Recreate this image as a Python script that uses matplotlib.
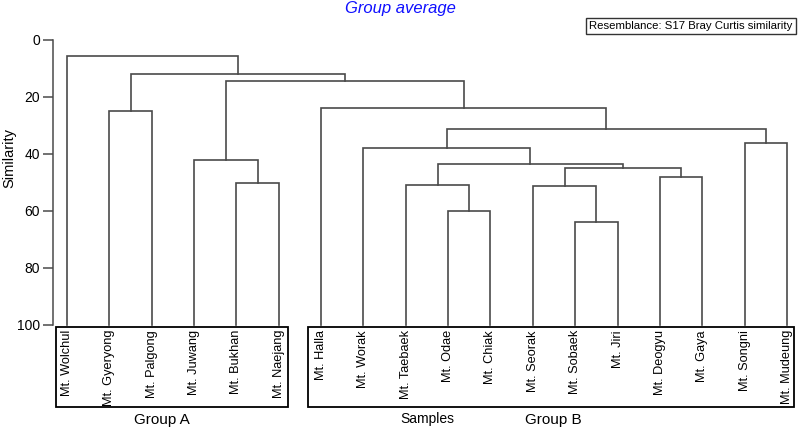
import matplotlib
matplotlib.use('Agg')
import matplotlib.pyplot as plt
from matplotlib.patches import Rectangle
from matplotlib.transforms import blended_transform_factory

# ---- data ----
leaves = ["Mt. Wolchul", "Mt. Gyeryong", "Mt. Palgong", "Mt. Juwang", "Mt. Bukhan",
          "Mt. Naejang", "Mt. Halla", "Mt. Worak", "Mt. Taebaek", "Mt. Odae", "Mt. Chiak",
          "Mt. Seorak", "Mt. Sobaek", "Mt. Jiri", "Mt. Deogyu", "Mt. Gaya", "Mt. Songni",
          "Mt. Mudeung"]
# merges: cluster ids (leaves 0..17, new clusters 18..)
merge_a = [4, 3, 1, 9, 8, 12, 11, 14, 24, 22, 7, 16, 28, 6, 19, 20, 0]
merge_b = [5, 18, 2, 10, 21, 13, 23, 15, 25, 26, 27, 17, 29, 30, 31, 32, 33]
merge_sim = [50.1, 42.0, 25.1, 60.1, 51.0, 64.0, 51.2, 48.2, 45.0, 43.6, 38.0,
             36.1, 31.4, 24.0, 14.5, 12.0, 5.6]
y_ticks = [0, 20, 40, 60, 80, 100]

plt.rcParams['font.family'] = ['Liberation Sans', 'DejaVu Sans']

W, H = 800, 430
fig = plt.figure(figsize=(W / 100, H / 100), dpi=100)


def fx(px):
    return px / W


def fy(py):
    return 1 - py / H


x0px, x1px = 52.7, 795.0
y0px, y1px = 39.7, 325.0
ax = fig.add_axes([fx(x0px), fy(y1px), fx(x1px) - fx(x0px), fy(y0px) - fy(y1px)])
spacing, leaf0 = 42.35, 67.0
ax.set_xlim((x0px - leaf0) / spacing, (x1px - leaf0) / spacing)
ax.set_ylim(100, 0)

line_color = '#4a4a4a'
n = len(leaves)
pos = {i: (float(i), 100.0) for i in range(n)}
for k, (a, b, s) in enumerate(zip(merge_a, merge_b, merge_sim)):
    xa, ha = pos[a]
    xb, hb = pos[b]
    ax.plot([xa, xa, xb, xb], [ha, s, s, hb], color=line_color, lw=1.2,
            clip_on=False, solid_joinstyle='miter')
    pos[n + k] = ((xa + xb) / 2, s)

for sp in ['top', 'right', 'bottom']:
    ax.spines[sp].set_visible(False)
ax.spines['left'].set_color(line_color)
ax.spines['left'].set_linewidth(1.1)
ax.set_yticks(y_ticks)
ax.tick_params(axis='y', length=7, width=1.1, color=line_color, labelsize=10, pad=2)
ax.set_xticks([])

# leaf labels
tr = blended_transform_factory(ax.transData, fig.transFigure)
for i, name in enumerate(leaves):
    ax.text(i, fy(330), name, rotation=90, ha='center', va='top', fontsize=9.2,
            transform=tr, clip_on=False)

# group boxes
fig.patches.append(Rectangle((fx(55.7), fy(407.3)), fx(288.3) - fx(55.7),
                             fy(327.3) - fy(407.3), fill=False, ec='black', lw=1.3,
                             transform=fig.transFigure))
fig.patches.append(Rectangle((fx(308.3), fy(407.3)), fx(794.3) - fx(308.3),
                             fy(327.3) - fy(407.3), fill=False, ec='black', lw=1.3,
                             transform=fig.transFigure))

fig.text(fx(162), fy(420), 'Group A', ha='center', va='center', fontsize=11)
fig.text(fx(427), fy(419), 'Samples', ha='center', va='center', fontsize=10)
fig.text(fx(553), fy(420), 'Group B', ha='center', va='center', fontsize=11)

fig.text(fx(9), fy(158), 'Similarity', rotation=90, ha='center', va='center', fontsize=10.5)

fig.text(fx(400), fy(8), 'Group average', ha='center', va='center', fontsize=12,
         style='italic', color='#1010ff')

fig.text(fx(691), fy(26), 'Resemblance: S17 Bray Curtis similarity', ha='center',
         va='center', fontsize=8.2,
         bbox=dict(boxstyle='square,pad=0.25', fc='white', ec='#333333', lw=1.0))

fig.savefig('out.png', dpi=100)
